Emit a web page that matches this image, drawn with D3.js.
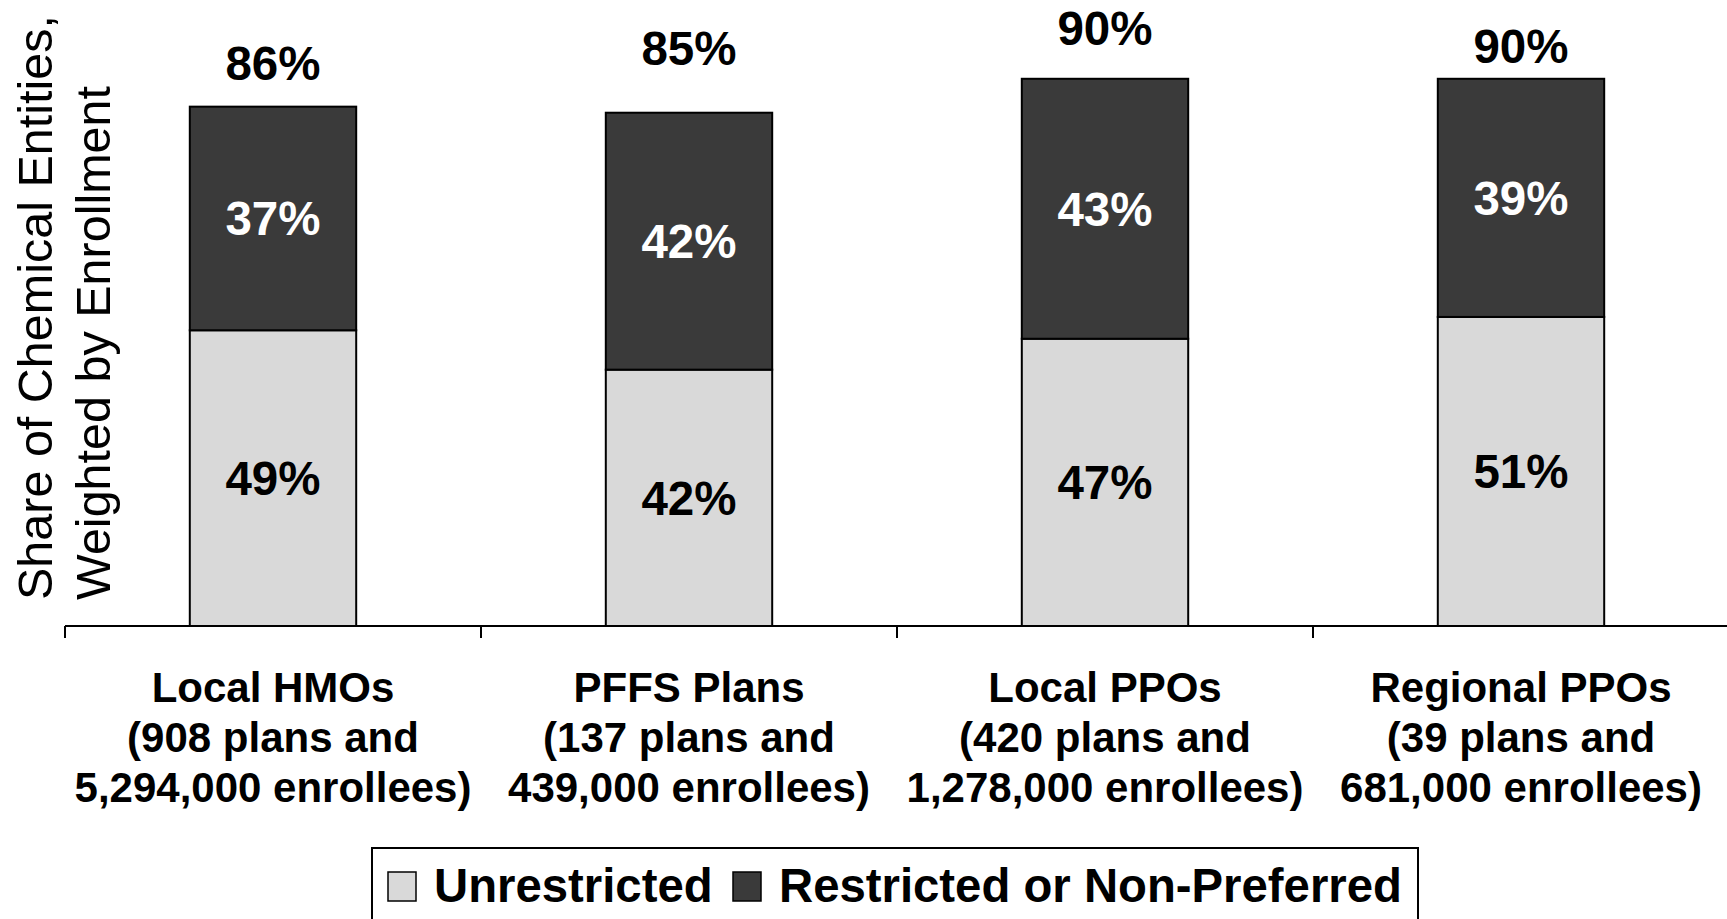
<!DOCTYPE html>
<html>
<head>
<meta charset="utf-8">
<script src="https://cdn.jsdelivr.net/npm/d3@7"></script>
<style>
  html, body { margin: 0; padding: 0; background: #fff; }
  svg { display: block; }
  text { font-family: "Liberation Sans", Arial, Helvetica, sans-serif; }
</style>
</head>
<body>
<svg id="chart" width="1727" height="919"></svg>
<script>
// Plan types and their sizes (three label lines each)
const categories = ["Local HMOs", "PFFS Plans", "Local PPOs", "Regional PPOs"];
const categoryLines = [
  ["Local HMOs", "(908 plans and", "5,294,000 enrollees)"],
  ["PFFS Plans", "(137 plans and", "439,000 enrollees)"],
  ["Local PPOs", "(420 plans and", "1,278,000 enrollees)"],
  ["Regional PPOs", "(39 plans and", "681,000 enrollees)"]
];

// Share of chemical entities (%), weighted by enrollment
const unrestricted = [48.8, 42.3, 47.4, 51.0];
const restricted   = [36.9, 42.4, 42.9, 39.3];

const seriesNames = ["Unrestricted", "Restricted or Non-Preferred"];

const svg = d3.select("#chart");

const fills = { "Unrestricted": "#d9d9d9", "Restricted or Non-Preferred": "#3a3a3a" };

// Scales
const x = d3.scaleBand()
  .domain(categories)
  .range([65, 1729])
  .paddingInner(0.6)
  .paddingOuter(0.3);

const y = d3.scaleLinear().domain([0, 100]).range([626, 20]);

const rows = categories.map((c, i) => ({
  cat: c,
  "Unrestricted": unrestricted[i],
  "Restricted or Non-Preferred": restricted[i]
}));
const stacked = d3.stack().keys(seriesNames)(rows);

// Stacked bars
const layers = svg.append("g").selectAll("g")
  .data(stacked)
  .join("g")
  .attr("fill", d => fills[d.key]);

layers.selectAll("rect")
  .data(d => d)
  .join("rect")
  .attr("x", d => x(d.data.cat))
  .attr("y", d => y(d[1]))
  .attr("width", x.bandwidth())
  .attr("height", d => y(d[0]) - y(d[1]))
  .attr("stroke", "#000")
  .attr("stroke-width", 2);

const pct = v => Math.round(v) + "%";

// Segment value labels, centred in each segment
layers.selectAll("text")
  .data(d => d.map(s => ({ s, key: d.key })))
  .join("text")
  .attr("x", d => x(d.s.data.cat) + x.bandwidth() / 2)
  .attr("y", d => (y(d.s[0]) + y(d.s[1])) / 2 + 17)
  .attr("text-anchor", "middle")
  .attr("font-size", 47.5)
  .attr("font-weight", "bold")
  .attr("fill", d => d.key === "Unrestricted" ? "#000" : "#fff")
  .text(d => pct(d.s[1] - d.s[0]));

// Totals above bars
const totals = categories.map((c, i) => unrestricted[i] + restricted[i]);
const totalLift = [27, 48, 34, 16];
svg.append("g").selectAll("text")
  .data(categories)
  .join("text")
  .attr("x", c => x(c) + x.bandwidth() / 2)
  .attr("y", (c, i) => y(totals[i]) - totalLift[i])
  .attr("text-anchor", "middle")
  .attr("font-size", 47.5)
  .attr("font-weight", "bold")
  .attr("fill", "#000")
  .text((c, i) => pct(totals[i]));

// Category axis: baseline plus separators between plan types
const axisG = svg.append("g");
axisG.append("line")
  .attr("x1", x.range()[0]).attr("x2", x.range()[1])
  .attr("y1", y(0)).attr("y2", y(0))
  .attr("stroke", "#000").attr("stroke-width", 2);
const bounds = d3.range(categories.length + 1).map(i => x.range()[0] + i * x.step());
axisG.selectAll("line.sep")
  .data(bounds)
  .join("line")
  .attr("class", "sep")
  .attr("x1", d => d).attr("x2", d => d)
  .attr("y1", y(0)).attr("y2", y(0) + 12)
  .attr("stroke", "#000").attr("stroke-width", 2);

// Category labels
const catG = svg.append("g").selectAll("text")
  .data(categories)
  .join("text")
  .attr("text-anchor", "middle")
  .attr("font-size", 42)
  .attr("font-weight", "bold")
  .attr("fill", "#000");
catG.selectAll("tspan")
  .data((c, i) => categoryLines[i].map(t => ({ t, c })))
  .join("tspan")
  .attr("x", d => x(d.c) + x.bandwidth() / 2)
  .attr("y", (d, j) => 702 + j * 50)
  .text(d => d.t);

// Y-axis title (two lines)
const yTitle = ["Share of Chemical Entities,", "Weighted by Enrollment"];
svg.append("g").selectAll("text")
  .data(yTitle)
  .join("text")
  .attr("transform", (d, i) => `translate(${52 + i * 58},600) rotate(-90)`)
  .attr("text-anchor", "start")
  .attr("font-size", 48.5)
  .attr("fill", "#000")
  .text(d => d);

// Legend
const legend = svg.append("g");
legend.append("rect")
  .attr("x", 372).attr("y", 848)
  .attr("width", 1046).attr("height", 100)
  .attr("fill", "#fff").attr("stroke", "#000").attr("stroke-width", 2);
const legendX = [388, 733];
const items = legend.selectAll("g.item")
  .data(seriesNames)
  .join("g")
  .attr("class", "item")
  .attr("transform", (d, i) => `translate(${legendX[i]},872)`);
items.append("rect")
  .attr("width", 28).attr("height", 29)
  .attr("fill", d => fills[d])
  .attr("stroke", "#000").attr("stroke-width", 1.5);
items.append("text")
  .attr("x", 46).attr("y", 30)
  .attr("font-size", 47.3)
  .attr("font-weight", "bold")
  .attr("fill", "#000")
  .text(d => d);
</script>
</body>
</html>
